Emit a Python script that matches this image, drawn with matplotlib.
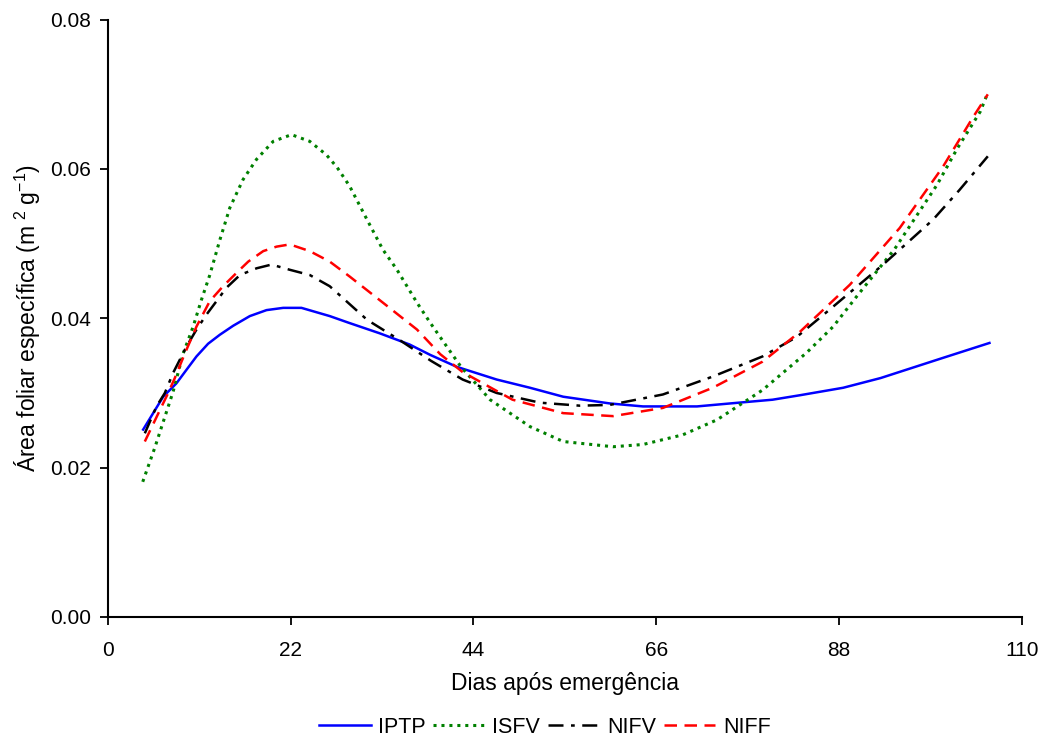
import numpy as np
import matplotlib
matplotlib.use("Agg")
import matplotlib.pyplot as plt

plt.rcParams['font.family'] = ['Liberation Sans', 'DejaVu Sans']
plt.rcParams['mathtext.fontset'] = 'custom'
plt.rcParams['mathtext.rm'] = 'Liberation Sans'

# values (dias, area foliar especifica)
dias_iptp = [4.25, 6.66, 8.26, 9.46, 10.67, 12.07, 13.48, 15.08, 17.09, 19.1, 21.1, 23.3,
             26.7, 29, 32.7, 36.3, 38.8, 42, 46.8, 50.8, 54.8, 60.4, 64.4, 70.9, 74.9,
             80, 83.3, 88.5, 93, 100.5, 106.1]
iptp = [0.0251, 0.0295, 0.0313, 0.0331, 0.0349, 0.0366, 0.0378, 0.0390, 0.0403, 0.0411,
        0.0414, 0.0414, 0.0403, 0.0394, 0.0380, 0.0365, 0.0351, 0.0335, 0.0318, 0.0307,
        0.0295, 0.0286, 0.0282, 0.0282, 0.0286, 0.0291, 0.0297, 0.0307, 0.0320, 0.0347,
        0.0367]

dias_isfv = [4.2, 5.66, 6.86, 7.86, 9.07, 10.27, 11.27, 12.27, 13.48, 14.68, 16.28, 17.9,
             19.9, 22.1, 24.3, 26.3, 27.6, 29.1, 31.2, 33.1, 34.8, 37.2, 38.8, 40.8,
             42.5, 46, 50.8, 54.8, 60.8, 64.4, 69.2, 73.3, 78.8, 84.1, 87.3, 90.1, 94.7,
             99.8, 102.2, 105, 105.9]
isfv = [0.0181, 0.0227, 0.0268, 0.0302, 0.0353, 0.0389, 0.0425, 0.0458, 0.0505, 0.0548,
        0.0586, 0.0613, 0.0637, 0.0646, 0.0637, 0.0619, 0.0602, 0.0577, 0.0532, 0.0492,
        0.0465, 0.0421, 0.0394, 0.0362, 0.0335, 0.0291, 0.0255, 0.0235, 0.0228, 0.0231,
        0.0244, 0.0264, 0.0304, 0.0354, 0.0389, 0.0429, 0.0493, 0.0579, 0.0627, 0.0677,
        0.0702]

dias_nifv = [4.45, 5.86, 6.86, 7.86, 9.46, 10.67, 11.87, 13.08, 14.28, 15.9, 17.9, 19.7,
             21.9, 24.3, 26.7, 29, 31.2, 35.1, 38.9, 42.7, 46.8, 52, 56.8, 60.4, 66.8,
             72.8, 78.8, 82.9, 86.9, 93.3, 99.3, 102.5, 105.9]
nifv = [0.0246, 0.0282, 0.0300, 0.0327, 0.0362, 0.0385, 0.0405, 0.0423, 0.0441, 0.0458,
        0.0467, 0.0472, 0.0465, 0.0458, 0.0443, 0.0420, 0.0398, 0.0371, 0.0343, 0.0318,
        0.0300, 0.0287, 0.0283, 0.0284, 0.0298, 0.0322, 0.0349, 0.0375, 0.0412, 0.0472,
        0.0532, 0.0572, 0.0617]

dias_niff = [4.45, 6.26, 7.26, 8.06, 9.27, 10.67, 12.27, 13.87, 15.5, 16.9, 18.7, 20.3,
             21.9, 24.3, 26.7, 29.1, 33.1, 37.2, 40, 42.7, 48.7, 54.8, 60.8, 66.8, 72.8,
             78.8, 83.3, 89.3, 95.3, 100.5, 104.1, 105.9]
niff = [0.0235, 0.0277, 0.0300, 0.0320, 0.0353, 0.0389, 0.0423, 0.0443, 0.0461, 0.0476,
        0.0490, 0.0496, 0.0499, 0.0490, 0.0476, 0.0456, 0.0421, 0.0385, 0.0352, 0.0328,
        0.0291, 0.0273, 0.0269, 0.0280, 0.0307, 0.0342, 0.0382, 0.0445, 0.0521, 0.0603,
        0.0669, 0.0700]

xticks = [0, 22, 44, 66, 88, 110]
yticks = [0.0, 0.02, 0.04, 0.06, 0.08]

fig = plt.figure(figsize=(10.47, 7.42), dpi=100)
ax = fig.add_axes([0.103, 0.1685, 0.873, 0.805])

ax.plot(dias_iptp, iptp, color='#0000ff', lw=1.8, label='IPTP')
ax.plot(dias_isfv, isfv, color='#008000', lw=2.2, ls=(0, (1, 1.6)), label='ISFV')
ax.plot(dias_nifv, nifv, color='black', lw=1.8, ls=(0, (6, 3, 1.5, 3)), label='NIFV')
ax.plot(dias_niff, niff, color='#ff0000', lw=1.8, ls=(0, (5, 3)), label='NIFF')

ax.set_xlim(0, 110)
ax.set_ylim(0, 0.08)
ax.set_xticks(xticks)
ax.set_yticks(yticks)
ax.set_yticklabels(['%.2f' % v for v in yticks])
ax.tick_params(direction='out', length=6, width=1.3, labelsize=15, colors='black')
ax.tick_params(axis='x', pad=11)
ax.tick_params(axis='y', pad=6)
for s in ['top', 'right']:
    ax.spines[s].set_visible(False)
for s in ['left', 'bottom']:
    ax.spines[s].set_linewidth(1.5)

ax.set_xlabel('Dias após emergência', fontsize=16.5, labelpad=9)
ax.set_ylabel('Área foliar específica (m$^{\\ 2}$ g$^{-1}$)', fontsize=16.5, labelpad=5)

ax.legend(loc='center', bbox_to_anchor=(0.478, -0.185), ncol=4, frameon=False,
          fontsize=15.5, handlelength=2.4, columnspacing=0.35, handletextpad=0.35)

fig.savefig('out.png', dpi=100)
